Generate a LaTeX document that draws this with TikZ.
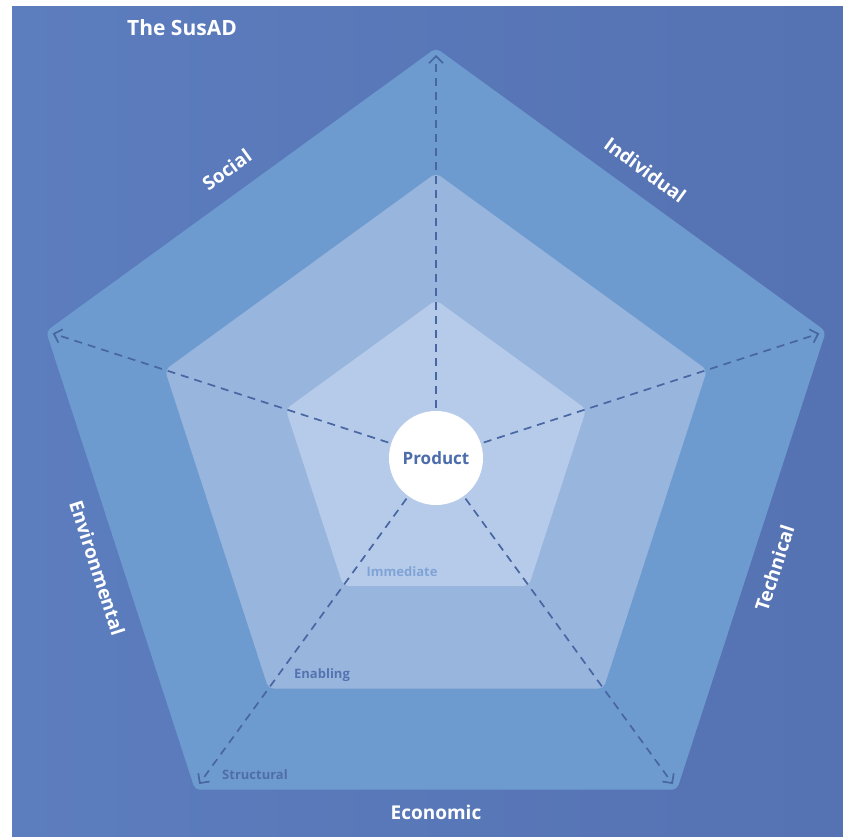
\documentclass[tikz,border=0pt]{standalone}
\usepackage{fontspec}
\setmainfont{Open Sans}
\usetikzlibrary{arrows.meta,calc}
\definecolor{bgA}{HTML}{5C7DBE}
\definecolor{bgB}{HTML}{5572B2}
\definecolor{outerc}{HTML}{6E9BCF}
\definecolor{midc}{HTML}{97B5DD}
\definecolor{innerc}{HTML}{B6CBE9}
\definecolor{dashc}{HTML}{4866A2}
\definecolor{prodc}{HTML}{4C6CAB}
\definecolor{immc}{HTML}{7FA3D7}
\definecolor{enac}{HTML}{5673B1}
\definecolor{strc}{HTML}{506DA8}
\tikzset{
  band/.style={rounded corners=5pt},
  axis/.style={dashc, line width=1.7pt, dash pattern=on 8pt off 6pt, shorten <=3pt, shorten >=7pt,
    -{Straight Barb[length=7pt,width=14pt,line width=1.7pt]}},
  dimlabel/.style={text=white, font=\bfseries\fontsize{19}{22}\selectfont},
  levlabel/.style={font=\bfseries\fontsize{13}{15}\selectfont},
}
\begin{document}
\begin{tikzpicture}[x=1pt,y=-1pt]
\useasboundingbox (0,0) rectangle (843,836);
\fill[white] (0,0) rectangle (843,836);
\shade[left color=bgA, right color=bgB] (12,6) rectangle (843,836);
\coordinate (c) at (436,458);
% pentagons
\foreach \r/\col in {410/outerc,285/midc,158/innerc}{
  \fill[\col, band] ($(c)+(-90:\r)$) -- ($(c)+(-18:\r)$) -- ($(c)+(54:\r)$) -- ($(c)+(126:\r)$) -- ($(c)+(198:\r)$) -- cycle;
}
% outer vertices
\coordinate (vT) at ($(c)+(-90:410)$);
\coordinate (vR) at ($(c)+(-18:410)$);
\coordinate (vBR) at ($(c)+(54:410)$);
\coordinate (vBL) at ($(c)+(126:410)$);
\coordinate (vL) at ($(c)+(198:410)$);
\node[circle, fill=white, minimum size=94pt, inner sep=0pt, text=prodc,
  font=\bfseries\fontsize{17}{20}\selectfont] (prod) at (c) {Product};
\foreach \v in {vT,vR,vBR,vBL,vL}{
  \draw[axis] (prod) -- (\v);
}
% dimension labels
\node[dimlabel, rotate=-36] (ind) at ($(c)+(-54:356)$) {Individual};
\node[dimlabel, rotate=72] (tec) at ($(c)+(18:356)$) {Technical};
\node[dimlabel] (eco) at ($(c)+(90:354)$) {Economic};
\node[dimlabel, rotate=-72] (env) at ($(c)+(162:356)$) {Environmental};
\node[dimlabel, rotate=36] (soc) at ($(c)+(234:356)$) {Social};
% level labels
\node[levlabel, text=immc] (imm) at (402,572) {Immediate};
\node[levlabel, text=enac] (ena) at (322,675) {Enabling};
\node[levlabel, text=strc] (str) at (255,775) {Structural};
% title
\node[text=white, font=\bfseries\fontsize{21}{25}\selectfont] (title) at (182,28) {The SusAD};
\end{tikzpicture}
\end{document}
